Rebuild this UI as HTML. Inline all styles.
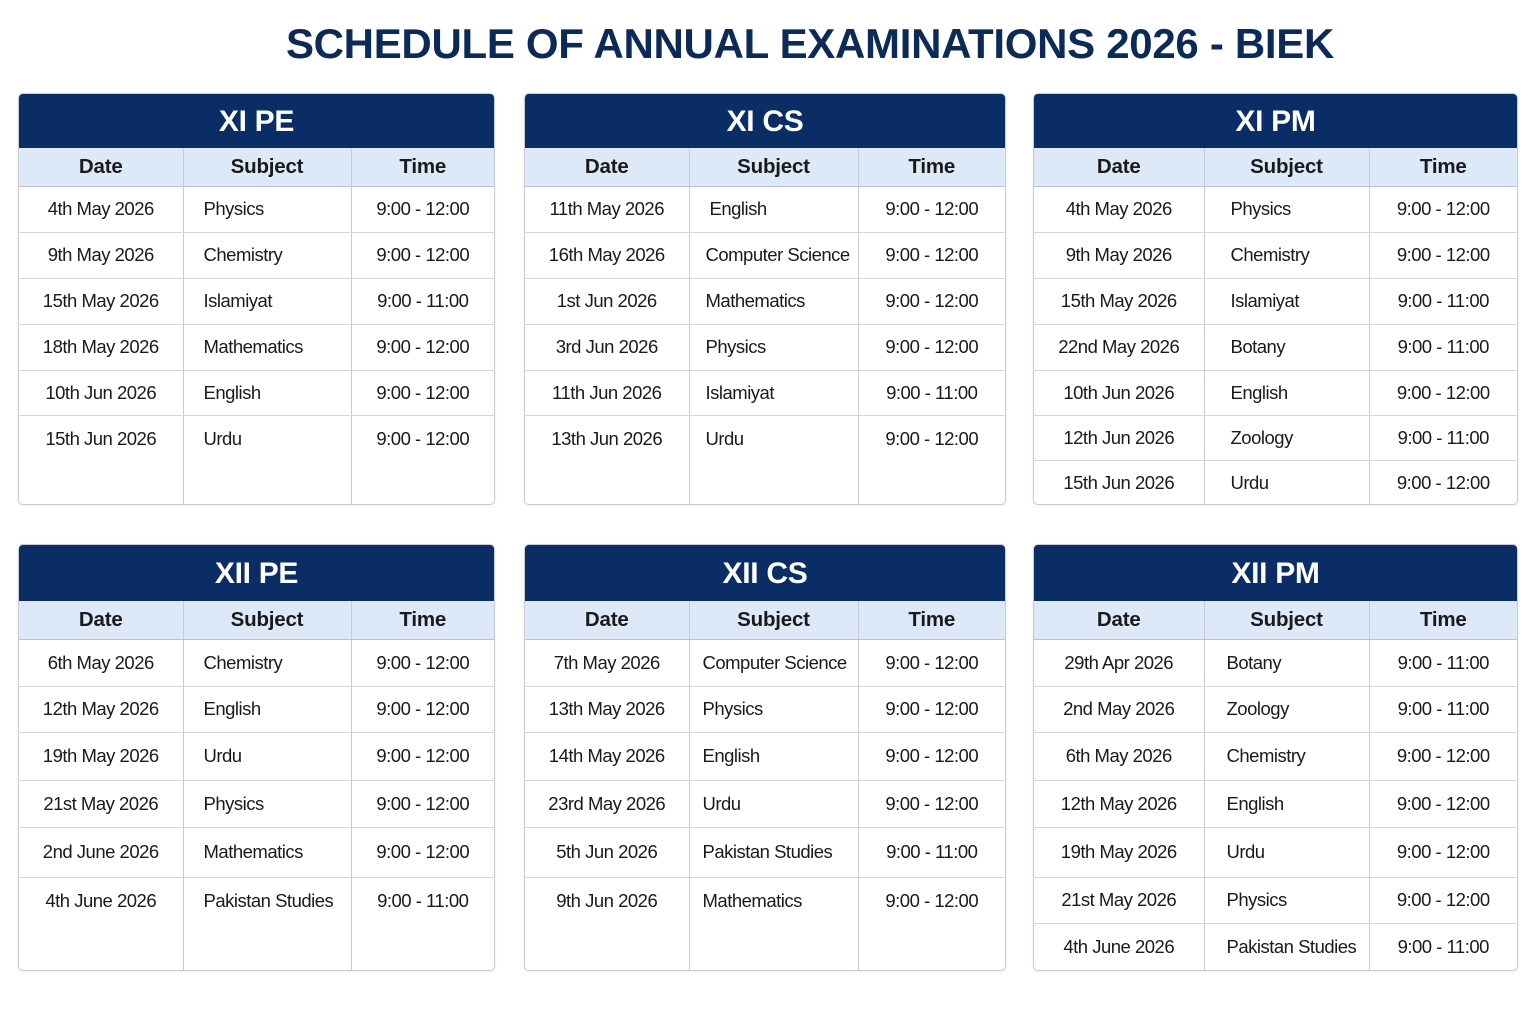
<!DOCTYPE html>
<html><head><meta charset="utf-8"><style>
body{margin:0;width:1536px;height:1024px;background:#fff;font-family:"Liberation Sans",sans-serif;position:relative;overflow:hidden}
h1{position:absolute;left:0;width:1620px;top:20px;margin:0;text-align:center;font-size:42px;font-weight:bold;color:#0c2a58;letter-spacing:-0.3px}
.t{position:absolute;box-sizing:border-box;border:1px solid #c9cdd3;border-radius:5px;overflow:hidden;background:#fff;box-shadow:0 1px 3px rgba(0,0,0,0.08)}
.hd{background:#0a2d66;color:#fff;font-weight:bold;font-size:30px;text-align:center;letter-spacing:-0.3px}
table{border-collapse:collapse;width:100%;table-layout:fixed}
td,th{border-right:1px solid #c9cdd3;font-size:18.5px;letter-spacing:-0.5px;color:#1a1a1a;padding:0;overflow:hidden;white-space:nowrap}
td:last-child,th:last-child{border-right:none}
th{background:#dde9f8;font-weight:bold;font-size:20.5px;letter-spacing:-0.2px;border-bottom:1px solid #b9c3d0}
tr.r td{border-bottom:1px solid #d3d6db}
tr.r:last-child td{border-bottom:none}
td.c{text-align:center}
td.s{padding-left:20px}
tr.last td{vertical-align:top}
</style></head><body>
<h1>SCHEDULE OF ANNUAL EXAMINATIONS 2026 - BIEK</h1>

<div class="t" style="left:18px;top:93px;width:477px;height:412px">
<div class="hd" style="height:54px;line-height:56px">XI PE</div>
<table><colgroup><col style="width:164px"><col style="width:168px"><col></colgroup>
<tr style="height:38px"><th>Date</th><th>Subject</th><th>Time</th></tr>
<tr class="r" style="height:46px"><td class="c">4th May 2026</td><td class="s">Physics</td><td class="c">9:00 - 12:00</td></tr>
<tr class="r" style="height:46px"><td class="c">9th May 2026</td><td class="s">Chemistry</td><td class="c">9:00 - 12:00</td></tr>
<tr class="r" style="height:46px"><td class="c">15th May 2026</td><td class="s">Islamiyat</td><td class="c">9:00 - 11:00</td></tr>
<tr class="r" style="height:46px"><td class="c">18th May 2026</td><td class="s">Mathematics</td><td class="c">9:00 - 12:00</td></tr>
<tr class="r" style="height:45px"><td class="c">10th Jun 2026</td><td class="s">English</td><td class="c">9:00 - 12:00</td></tr>
<tr class="r last" style="height:90px"><td class="c" style="padding-top:12px">15th Jun 2026</td><td class="s" style="padding-top:12px">Urdu</td><td class="c" style="padding-top:12px">9:00 - 12:00</td></tr>
</table></div>

<div class="t" style="left:524px;top:93px;width:482px;height:412px">
<div class="hd" style="height:54px;line-height:56px">XI CS</div>
<table><colgroup><col style="width:164px"><col style="width:169px"><col></colgroup>
<tr style="height:38px"><th>Date</th><th>Subject</th><th>Time</th></tr>
<tr class="r" style="height:46px"><td class="c">11th May 2026</td><td class="s">English</td><td class="c">9:00 - 12:00</td></tr>
<tr class="r" style="height:46px"><td class="c">16th May 2026</td><td class="s" style="padding-left:16px">Computer Science</td><td class="c">9:00 - 12:00</td></tr>
<tr class="r" style="height:46px"><td class="c">1st Jun 2026</td><td class="s" style="padding-left:16px">Mathematics</td><td class="c">9:00 - 12:00</td></tr>
<tr class="r" style="height:46px"><td class="c">3rd Jun 2026</td><td class="s" style="padding-left:16px">Physics</td><td class="c">9:00 - 12:00</td></tr>
<tr class="r" style="height:45px"><td class="c">11th Jun 2026</td><td class="s" style="padding-left:16px">Islamiyat</td><td class="c">9:00 - 11:00</td></tr>
<tr class="r last" style="height:90px"><td class="c" style="padding-top:12px">13th Jun 2026</td><td class="s" style="padding-top:12px;padding-left:16px">Urdu</td><td class="c" style="padding-top:12px">9:00 - 12:00</td></tr>
</table></div>

<div class="t" style="left:1033px;top:93px;width:485px;height:412px">
<div class="hd" style="height:54px;line-height:56px">XI PM</div>
<table><colgroup><col style="width:170px"><col style="width:165px"><col></colgroup>
<tr style="height:38px"><th>Date</th><th>Subject</th><th>Time</th></tr>
<tr class="r" style="height:46px"><td class="c">4th May 2026</td><td class="s" style="padding-left:26px">Physics</td><td class="c">9:00 - 12:00</td></tr>
<tr class="r" style="height:46px"><td class="c">9th May 2026</td><td class="s" style="padding-left:26px">Chemistry</td><td class="c">9:00 - 12:00</td></tr>
<tr class="r" style="height:46px"><td class="c">15th May 2026</td><td class="s" style="padding-left:26px">Islamiyat</td><td class="c">9:00 - 11:00</td></tr>
<tr class="r" style="height:46px"><td class="c">22nd May 2026</td><td class="s" style="padding-left:26px">Botany</td><td class="c">9:00 - 11:00</td></tr>
<tr class="r" style="height:45px"><td class="c">10th Jun 2026</td><td class="s" style="padding-left:26px">English</td><td class="c">9:00 - 12:00</td></tr>
<tr class="r" style="height:45px"><td class="c">12th Jun 2026</td><td class="s" style="padding-left:26px">Zoology</td><td class="c">9:00 - 11:00</td></tr>
<tr class="r" style="height:45px"><td class="c">15th Jun 2026</td><td class="s" style="padding-left:26px">Urdu</td><td class="c">9:00 - 12:00</td></tr>
</table></div>

<div class="t" style="left:18px;top:544px;width:477px;height:427px">
<div class="hd" style="height:56px;line-height:58px">XII PE</div>
<table><colgroup><col style="width:164px"><col style="width:168px"><col></colgroup>
<tr style="height:38px"><th>Date</th><th>Subject</th><th>Time</th></tr>
<tr class="r" style="height:47px"><td class="c">6th May 2026</td><td class="s">Chemistry</td><td class="c">9:00 - 12:00</td></tr>
<tr class="r" style="height:46px"><td class="c">12th May 2026</td><td class="s">English</td><td class="c">9:00 - 12:00</td></tr>
<tr class="r" style="height:48px"><td class="c">19th May 2026</td><td class="s">Urdu</td><td class="c">9:00 - 12:00</td></tr>
<tr class="r" style="height:47px"><td class="c">21st May 2026</td><td class="s">Physics</td><td class="c">9:00 - 12:00</td></tr>
<tr class="r" style="height:50px"><td class="c">2nd June 2026</td><td class="s">Mathematics</td><td class="c">9:00 - 12:00</td></tr>
<tr class="r last" style="height:94px"><td class="c" style="padding-top:12px">4th June 2026</td><td class="s" style="padding-top:12px">Pakistan Studies</td><td class="c" style="padding-top:12px">9:00 - 11:00</td></tr>
</table></div>

<div class="t" style="left:524px;top:544px;width:482px;height:427px">
<div class="hd" style="height:56px;line-height:58px">XII CS</div>
<table><colgroup><col style="width:164px"><col style="width:169px"><col></colgroup>
<tr style="height:38px"><th>Date</th><th>Subject</th><th>Time</th></tr>
<tr class="r" style="height:47px"><td class="c">7th May 2026</td><td class="s" style="padding-left:13px">Computer Science</td><td class="c">9:00 - 12:00</td></tr>
<tr class="r" style="height:46px"><td class="c">13th May 2026</td><td class="s" style="padding-left:13px">Physics</td><td class="c">9:00 - 12:00</td></tr>
<tr class="r" style="height:48px"><td class="c">14th May 2026</td><td class="s" style="padding-left:13px">English</td><td class="c">9:00 - 12:00</td></tr>
<tr class="r" style="height:47px"><td class="c">23rd May 2026</td><td class="s" style="padding-left:13px">Urdu</td><td class="c">9:00 - 12:00</td></tr>
<tr class="r" style="height:50px"><td class="c">5th Jun 2026</td><td class="s" style="padding-left:13px">Pakistan Studies</td><td class="c">9:00 - 11:00</td></tr>
<tr class="r last" style="height:94px"><td class="c" style="padding-top:12px">9th Jun 2026</td><td class="s" style="padding-top:12px;padding-left:13px">Mathematics</td><td class="c" style="padding-top:12px">9:00 - 12:00</td></tr>
</table></div>

<div class="t" style="left:1033px;top:544px;width:485px;height:427px">
<div class="hd" style="height:56px;line-height:58px">XII PM</div>
<table><colgroup><col style="width:170px"><col style="width:165px"><col></colgroup>
<tr style="height:38px"><th>Date</th><th>Subject</th><th>Time</th></tr>
<tr class="r" style="height:47px"><td class="c">29th Apr 2026</td><td class="s" style="padding-left:22px">Botany</td><td class="c">9:00 - 11:00</td></tr>
<tr class="r" style="height:46px"><td class="c">2nd May 2026</td><td class="s" style="padding-left:22px">Zoology</td><td class="c">9:00 - 11:00</td></tr>
<tr class="r" style="height:48px"><td class="c">6th May 2026</td><td class="s" style="padding-left:22px">Chemistry</td><td class="c">9:00 - 12:00</td></tr>
<tr class="r" style="height:47px"><td class="c">12th May 2026</td><td class="s" style="padding-left:22px">English</td><td class="c">9:00 - 12:00</td></tr>
<tr class="r" style="height:50px"><td class="c">19th May 2026</td><td class="s" style="padding-left:22px">Urdu</td><td class="c">9:00 - 12:00</td></tr>
<tr class="r" style="height:46px"><td class="c">21st May 2026</td><td class="s" style="padding-left:22px">Physics</td><td class="c">9:00 - 12:00</td></tr>
<tr class="r" style="height:48px"><td class="c">4th June 2026</td><td class="s" style="padding-left:22px">Pakistan Studies</td><td class="c">9:00 - 11:00</td></tr>
</table></div>
</body></html>
